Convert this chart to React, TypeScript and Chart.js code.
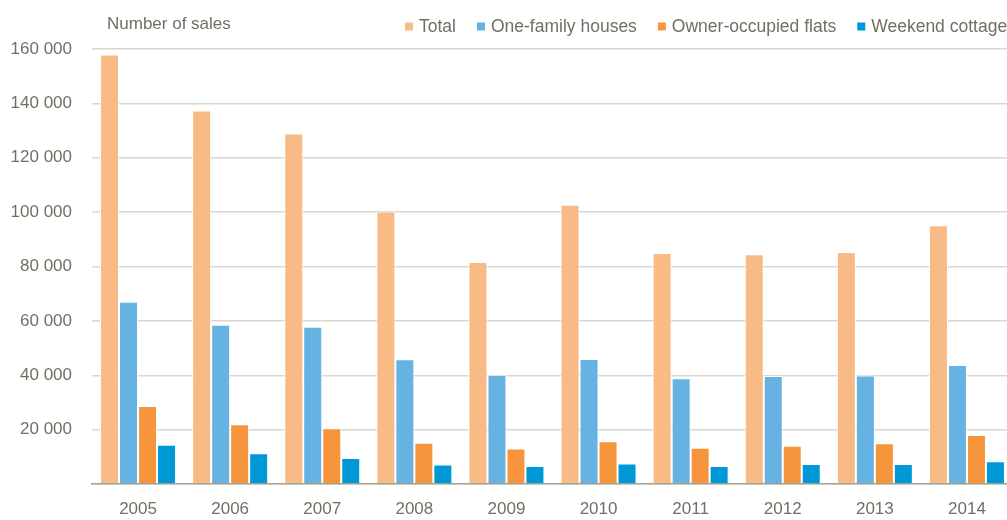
import { useEffect, useRef } from 'react';
import { Chart, registerables } from 'chart.js';

Chart.register(...registerables);

const years = ['2005', '2006', '2007', '2008', '2009', '2010', '2011', '2012', '2013', '2014'];
const total = [158000, 137400, 128900, 100200, 81700, 102700, 85000, 84500, 85300, 95200];
const oneFamily = [67000, 58600, 57800, 45900, 40200, 46000, 38900, 39700, 39900, 43800];
const flats = [28700, 22000, 20500, 15200, 13100, 15700, 13300, 14100, 15000, 18000];
const cottages = [14400, 11300, 9600, 7200, 6600, 7500, 6600, 7400, 7400, 8400];
const seriesNames = ['Total', 'One-family houses', 'Owner-occupied flats', 'Weekend cottages'];
const seriesColors = ['#F9BB85', '#66B2E3', '#F7953C', '#0099D8'];
const yTickValues = [0, 20000, 40000, 60000, 80000, 100000, 120000, 140000, 160000];
const axisTitle = 'Number of sales';

const FONT_FAMILY = "'Liberation Sans', Arial, sans-serif";
const FONT_SIZE = 17;
const LEGEND_FONT_SIZE = 17.5;
const TEXT_COLOR = '#707062';

function fmt(v: number): string {
  if (v === 0) return '';
  return String(v).replace(/\B(?=(\d{3})+(?!\d))/g, ' ');
}

const headerPlugin = {
  id: 'header',
  afterDraw(chart: any) {
    const ctx = chart.ctx as CanvasRenderingContext2D;
    ctx.save();
    ctx.fillStyle = TEXT_COLOR;
    ctx.textBaseline = 'alphabetic';
    ctx.textAlign = 'left';
    ctx.font = `${FONT_SIZE}px ${FONT_FAMILY}`;
    ctx.fillText(axisTitle, 107, 29);
    ctx.font = `${LEGEND_FONT_SIZE}px ${FONT_FAMILY}`;
    let x = 405;
    chart.data.datasets.forEach((ds: any) => {
      ctx.fillStyle = ds.backgroundColor;
      ctx.fillRect(x, 22.5, 8, 8);
      ctx.fillStyle = TEXT_COLOR;
      ctx.fillText(ds.label, x + 14, 31.5);
      x += 14 + ctx.measureText(ds.label).width + 21;
    });
    ctx.restore();
  },
};

export default function App() {
  const ref = useRef<HTMLCanvasElement | null>(null);
  useEffect(() => {
    if (!ref.current) return;
    const series = [total, oneFamily, flats, cottages];
    const chart = new Chart(ref.current, {
      type: 'bar',
      data: {
        labels: years,
        datasets: series.map((d, i) => ({
          label: seriesNames[i],
          data: d,
          backgroundColor: seriesColors[i],
          borderColor: '#ffffff',
          borderWidth: 1,
          categoryPercentage: 0.825,
          barPercentage: 1,
        })),
      },
      options: {
        responsive: false,
        animation: false,
        devicePixelRatio: 1,
        layout: { padding: { top: 49, left: 0, right: 11, bottom: 0 } },
        plugins: {
          legend: { display: false },
          title: { display: false },
          tooltip: { enabled: false },
        },
        scales: {
          x: {
            grid: { display: false, drawTicks: false },
            border: { display: true, color: '#A3A290', width: 1.5 },
            ticks: {
              color: TEXT_COLOR,
              font: { family: FONT_FAMILY, size: FONT_SIZE },
              padding: 15,
              maxRotation: 0,
            },
            afterFit: (s: any) => {
              s.height = 36;
            },
          },
          y: {
            min: 0,
            max: 160000,
            afterBuildTicks: (s: any) => {
              s.ticks = yTickValues.map((v) => ({ value: v }));
            },
            grid: { color: '#D9D8D0', lineWidth: 1.5, drawTicks: false },
            border: { display: false },
            ticks: {
              color: TEXT_COLOR,
              font: { family: FONT_FAMILY, size: FONT_SIZE },
              padding: 20,
              callback: (v: any) => fmt(Number(v)),
            },
            afterFit: (s: any) => {
              s.width = 92;
            },
          },
        },
      },
      plugins: [headerPlugin],
    });
    return () => chart.destroy();
  }, []);
  return (
    <div
      style={{
        position: 'fixed',
        left: 0,
        top: 0,
        width: 1007,
        height: 520,
        overflow: 'hidden',
        background: '#ffffff',
      }}
    >
      <canvas ref={ref} width={1024} height={520} style={{ display: 'block', width: 1024, height: 520 }} />
    </div>
  );
}
